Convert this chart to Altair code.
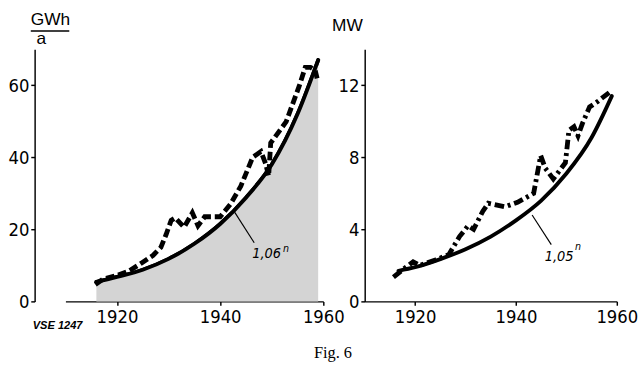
import altair as alt
import pandas as pd

# ---------------- data ----------------
# Left panel: energy, GWh/a
left_smooth_year = [1916.0, 1920, 1925, 1930, 1935, 1940, 1945, 1950, 1955, 1959]
left_smooth_value = [5.4, 6.8, 8.8, 11.8, 16.0, 21.5, 28.8, 38.0, 52.0, 67.0]

left_dash_year = [1915.8, 1917.3, 1920, 1922.3, 1924.7, 1927, 1928.5, 1929.5, 1930.5,
                  1931.3, 1933, 1934.6, 1935.7, 1937, 1940, 1942, 1944, 1946.3, 1947.9,
                  1948.8, 1949.4, 1949.8, 1952.8, 1955.3, 1956.5, 1957.5, 1958.4, 1958.8]
left_dash_value = [4.7, 6.2, 7.2, 8.4, 10.6, 12.8, 15.0, 18.5, 22.5,
                   23.2, 20.6, 24.6, 21.0, 23.5, 23.5, 27.0, 32.0, 40.0, 41.6,
                   38.3, 34.8, 44.0, 49.9, 59.7, 65.0, 65.0, 64.2, 61.9]

# Right panel: power, MW
right_smooth_year = [1916.7, 1920, 1925, 1930, 1935, 1940, 1945, 1950, 1955, 1959]
right_smooth_value = [1.7, 1.9, 2.35, 2.9, 3.6, 4.5, 5.6, 7.1, 9.1, 11.4]

right_dash_year = [1915.7, 1917.5, 1919.6, 1920.9, 1924.0, 1926.7, 1928.8, 1930.5, 1931.6,
                   1933.4, 1934.5, 1937.8, 1940.3, 1943.5, 1944.9, 1945.8, 1947.4, 1949.8,
                   1950.5, 1951.5, 1952.3, 1953.2, 1954.6, 1956.2, 1958.5]
right_dash_value = [1.35, 1.75, 2.2, 2.0, 2.3, 2.6, 3.6, 4.2, 4.0,
                    5.0, 5.45, 5.25, 5.5, 6.0, 8.1, 7.4, 6.8, 7.7,
                    9.5, 9.7, 9.2, 9.9, 10.8, 11.1, 11.6]

# annotation leader lines (from curve to label) and labels
left_leader = {"x": [1942.8], "y": [24.8], "x2": [1946.6], "y2": [16.3]}
right_leader = {"x": [1943.2], "y": [4.8], "x2": [1947.0], "y2": [3.15]}
left_label = {"x": [1946.2], "y": [12.1], "t": ["1,06"]}
left_exp = {"x": [1952.2], "y": [13.8], "t": ["n"]}
right_label = {"x": [1945.7], "y": [2.24], "t": ["1,05"]}
right_exp = {"x": [1951.7], "y": [2.85], "t": ["n"]}

x_ticks = [1920, 1940, 1960]
left_y_ticks = [0, 20, 40, 60]
right_y_ticks = [0, 4, 8, 12]

NARROW = "DejaVu Sans Condensed, Liberation Sans, sans-serif"
SANS = "Liberation Sans"


def panel(sm_y, sm_v, d_y, d_v, dash, leader, label, exp, ydom, yticks, shade, yoffset):
    smooth = pd.DataFrame({"year": sm_y, "v": sm_v})
    dashed = pd.DataFrame({"year": d_y, "v": d_v})
    xs = alt.Scale(domain=[1910, 1960], nice=False, zero=False)
    ys = alt.Scale(domain=ydom, nice=False, zero=True)
    xax = alt.Axis(values=x_ticks, format="d", title=None, labelFlush=False)
    yax = alt.Axis(values=yticks, title=None, labelFlush=False, offset=yoffset)

    def X(f, **kw):
        return alt.X(f, type="quantitative", scale=xs, **kw)

    def Y(f, **kw):
        return alt.Y(f, type="quantitative", scale=ys, **kw)

    smooth_line = alt.Chart(smooth).mark_line(color="black", strokeWidth=4, interpolate="monotone",
                                              strokeCap="round").encode(
        x=X("year", axis=xax), y=Y("v", axis=yax))
    layers = [smooth_line]
    if shade:
        layers.append(alt.Chart(smooth).mark_area(color="#d4d4d4", interpolate="monotone").encode(
            x=X("year"), y=Y("v", stack=None)))
        layers.append(smooth_line)
    layers.append(alt.Chart(dashed).mark_line(color="black", strokeWidth=5, strokeDash=dash,
                                              strokeCap="butt", strokeJoin="miter").encode(
        x=X("year"), y=Y("v")))
    layers.append(alt.Chart(pd.DataFrame(leader)).mark_rule(color="black", strokeWidth=1.2).encode(
        x=X("x"), y=Y("y"), x2="x2:Q", y2="y2:Q"))
    layers.append(alt.Chart(pd.DataFrame(label)).mark_text(
        font=NARROW, fontSize=15, fontStyle="italic", align="left", baseline="alphabetic",
        color="black").encode(x=X("x"), y=Y("y"), text="t:N"))
    layers.append(alt.Chart(pd.DataFrame(exp)).mark_text(
        font=NARROW, fontSize=11, fontStyle="italic", align="left", baseline="alphabetic",
        color="black").encode(x=X("x"), y=Y("y"), text="t:N"))
    return layers


left_layers = panel(left_smooth_year, left_smooth_value, left_dash_year, left_dash_value,
                    [9, 4], left_leader, left_label, left_exp, [0, 70], left_y_ticks, True, 32)
right_layers = panel(right_smooth_year, right_smooth_value, right_dash_year, right_dash_value,
                     [10, 4, 3, 4], right_leader, right_label, right_exp, [0, 14], right_y_ticks, False, 0)

one = pd.DataFrame({"k": [0]})
# axis titles and captions
gwh = alt.Chart(one).mark_text(text="GWh", font=SANS, fontSize=18, align="left", baseline="top",
                               color="black").encode(x=alt.value(-36), y=alt.value(-39))
gwh_line = alt.Chart(one).mark_rule(color="black", strokeWidth=1.6).encode(
    x=alt.value(-36), x2=alt.value(4), y=alt.value(-19))
a_txt = alt.Chart(one).mark_text(text="a", font=SANS, fontSize=18, align="left", baseline="alphabetic",
                                 color="black").encode(x=alt.value(-30), y=alt.value(-6))
vse = alt.Chart(one).mark_text(text="VSE 1247", font=SANS, fontSize=11.5, fontStyle="italic",
                               fontWeight="bold", align="left", baseline="alphabetic",
                               color="black").encode(x=alt.value(-34), y=alt.value(291))
fig = alt.Chart(one).mark_text(text="Fig. 6", font="Liberation Serif", fontSize=17, align="center",
                               baseline="alphabetic", color="black").encode(
    x=alt.value(278), y=alt.value(321))
mw = alt.Chart(one).mark_text(text="MW", font=SANS, fontSize=18, align="left", baseline="top",
                              color="black").encode(x=alt.value(-34), y=alt.value(-33))

left = alt.layer(*left_layers, gwh, gwh_line, a_txt, vse, fig).properties(width=268, height=262)
right = alt.layer(*right_layers, mw).properties(width=262, height=262)

chart = alt.hconcat(left, right, spacing=43, bounds="flush").properties(
    padding={"left": 8, "top": 5, "right": 0, "bottom": 0}, background="white"
).configure_view(stroke=None).configure_axis(
    grid=False, domainColor="black", domainWidth=1.5, tickColor="black", tickWidth=1.5,
    tickSize=4, labelFont=NARROW, labelFontSize=19, labelColor="black", labelPadding=3
).configure_axisY(labelPadding=2)

chart.save("out.html", embed_options={"renderer": "svg", "actions": False})
